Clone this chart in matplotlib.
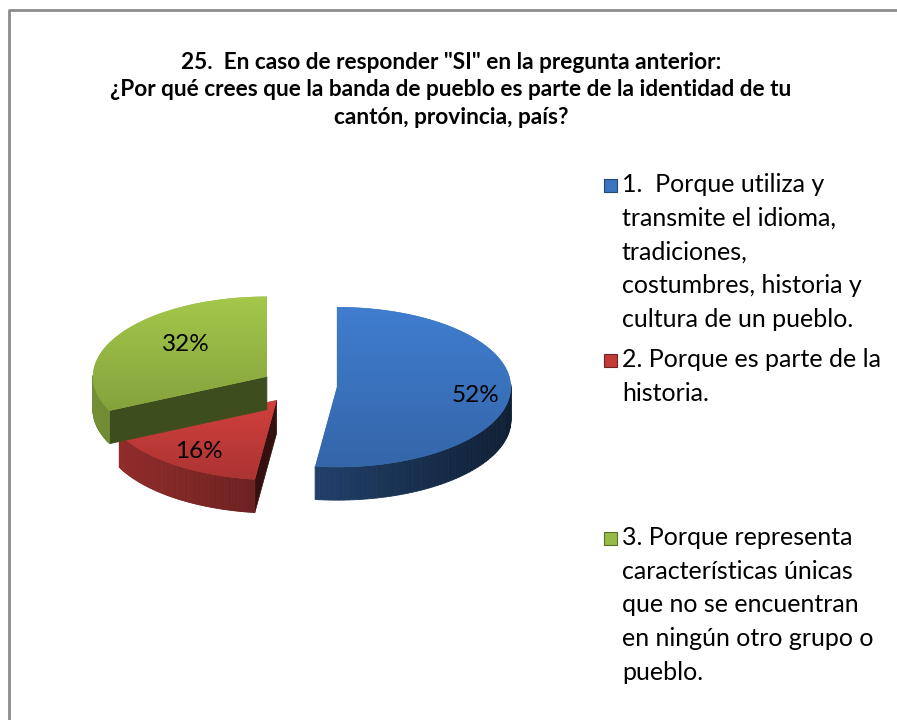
import numpy as np
import matplotlib.pyplot as plt
from matplotlib.patches import Polygon, Rectangle
import matplotlib.colors as mcolors

plt.rcParams['font.family'] = ['Lato', 'DejaVu Sans']

# data
values = [52, 16, 32]
pct_labels = ['52%', '16%', '32%']
legend_labels = [
    '1.  Porque utiliza y\ntransmite el idioma,\ntradiciones,\ncostumbres, historia y\ncultura de un pueblo.',
    '2. Porque es parte de la\nhistoria.',
    '3. Porque representa\ncaracterísticas únicas\nque no se encuentran\nen ningún otro grupo o\npueblo.',
]
colors = ['#3b74c0', '#c23b39', '#97b945']
title = ('25.  En caso de responder "SI" en la pregunta anterior:\n'
         '¿Por qué crees que la banda de pueblo es parte de la identidad de tu\n'
         'cantón, provincia, país?')

# layout (pixels)
W, H = 897, 720
cx, cy = 299, 386      # pie centre
R, k = 174, 0.46       # horizontal radius, tilt ratio
depth = 33
explode = 38
label_r = [0.8, 0.76, 0.55]
label_dy = [4, 2, -9]


def pt(x0, y0, th, rad=1.0):
    return x0 + R * rad * np.sin(th), y0 - R * k * rad * np.cos(th)


def shade(c, th):
    f = np.clip(0.52 - 0.25 * np.sin(th), 0.2, 0.9)
    return tuple(np.array(mcolors.to_rgb(c)) * f)


fig = plt.figure(figsize=(W / 100, H / 100), dpi=100)
ax = fig.add_axes([0, 0, 1, 1])

fracs = np.array(values) / np.sum(values)
starts = np.concatenate([[0], np.cumsum(fracs)[:-1]]) * 2 * np.pi
ends = np.cumsum(fracs) * 2 * np.pi
mids = (starts + ends) / 2
centers = [(cx + explode * np.sin(m), cy - explode * k * np.cos(m)) for m in mids]

order = np.argsort([c[1] for c in centers])
for i in order:
    x0, y0 = centers[i]
    a1, a2 = starts[i], ends[i]
    th = np.linspace(a1, a2, 120)
    ax_, ay_ = pt(x0, y0, th)

    # radial cut faces
    for a, n in [(a1, a1 - np.pi / 2), (a2, a2 + np.pi / 2)]:
        if np.cos(n) < 0:
            px, py = pt(x0, y0, a)
            quad = [(x0, y0), (px, py), (px, py + depth), (x0, y0 + depth)]
            ax.add_patch(Polygon(quad, closed=True, fc=shade(colors[i], n),
                                 ec=shade(colors[i], n), lw=0.5, zorder=2 + i * 3))
    # outer wall
    for j in range(len(th) - 1):
        tm = (th[j] + th[j + 1]) / 2
        if np.cos(tm) >= 0.02:
            continue
        quad = [(ax_[j], ay_[j]), (ax_[j + 1], ay_[j + 1]),
                (ax_[j + 1], ay_[j + 1] + depth), (ax_[j], ay_[j] + depth)]
        c = shade(colors[i], tm)
        ax.add_patch(Polygon(quad, closed=True, fc=c, ec=c, lw=0.6, zorder=2 + i * 3))

    # top face with a soft gradient
    top = np.column_stack([np.r_[x0, ax_], np.r_[y0, ay_]])
    poly = Polygon(top, closed=True, fc=colors[i], ec='none', zorder=3 + i * 3)
    ax.add_patch(poly)
    base = np.array(mcolors.to_rgb(colors[i]))
    g = np.linspace(1.08, 0.88, 64)[:, None, None] * base[None, None, :]
    img = ax.imshow(np.clip(g, 0, 1), extent=(top[:, 0].min(), top[:, 0].max(),
                                              top[:, 1].max(), top[:, 1].min()),
                    aspect='auto', zorder=3 + i * 3, interpolation='bilinear')
    img.set_clip_path(poly)

    lx, ly = pt(x0, y0, mids[i], label_r[i])
    ax.text(lx, ly + label_dy[i], pct_labels[i], fontsize=17.5, ha='center',
            va='center', color='black', zorder=20)

# title
ax.text(451, 90, title, fontsize=16.3, fontweight='bold', ha='center', va='center',
        linespacing=1.38, zorder=20)

# legend
leg_y = [189, 364, 542]
for i, lab in enumerate(legend_labels):
    base = np.array(mcolors.to_rgb(colors[i]))
    ax.add_patch(Rectangle((604, leg_y[i] - 10), 13, 13, fc=colors[i],
                           ec=tuple(base * 0.6), lw=0.8, zorder=20))
    ax.text(622, leg_y[i] - 16, lab, fontsize=18, ha='left', va='top',
            linespacing=1.56, zorder=20)

# chart border
ax.plot([8.5, 8.5, W], [H, 9.5, 9.5], color='#8c8c8c', lw=2, zorder=30,
        solid_capstyle='butt')

ax.set_xlim(0, W)
ax.set_ylim(H, 0)
ax.axis('off')
fig.savefig('out.png', dpi=100, facecolor='white')
